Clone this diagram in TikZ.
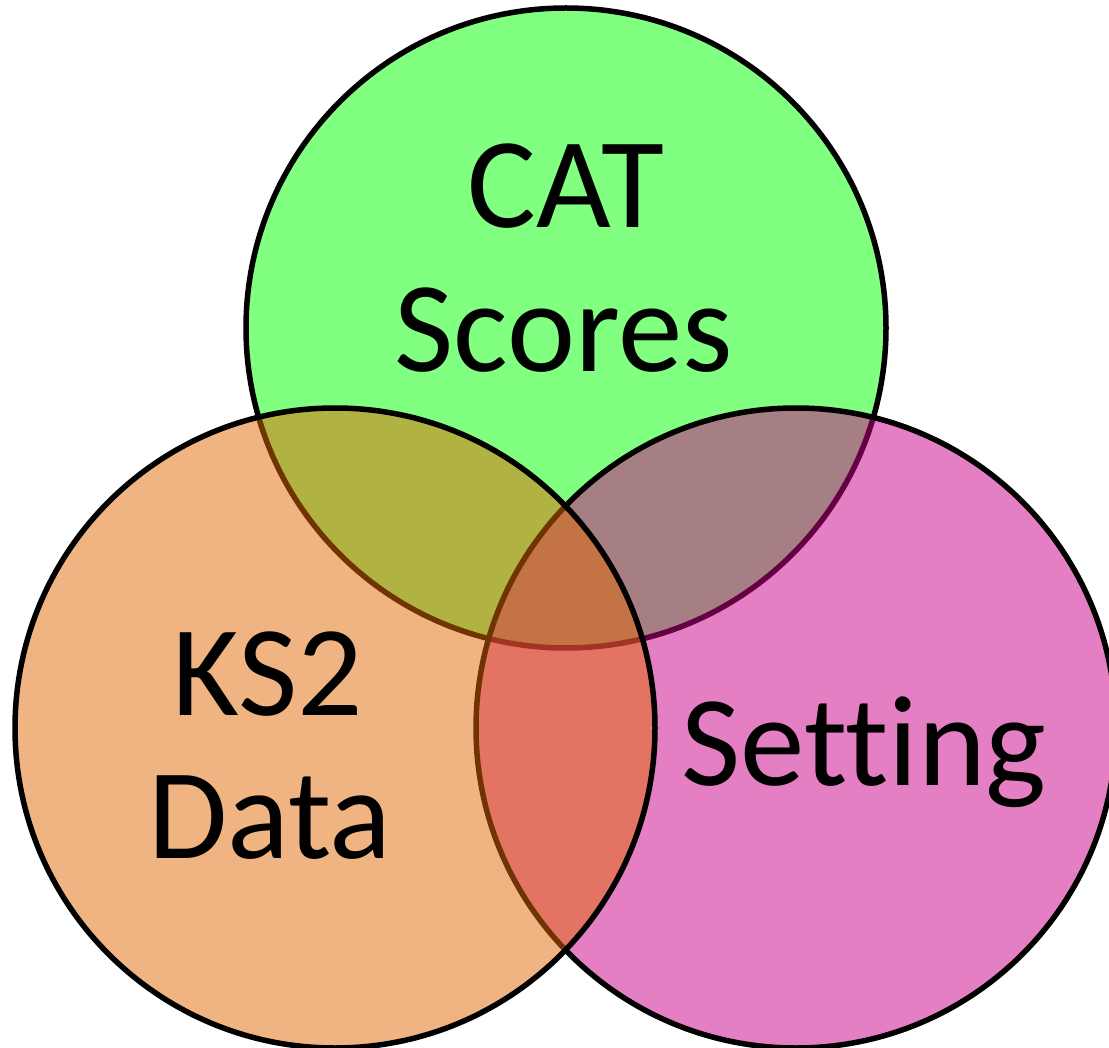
\documentclass[tikz,border=0pt]{standalone}
\usepackage{fontspec}
\setmainfont[Ligatures={NoCommon,NoContextual}]{Carlito}
\definecolor{cgreen}{RGB}{128,255,128}
\definecolor{cmag}{RGB}{204,0,136}
\definecolor{corange}{RGB}{225,105,5}
\begin{document}
\begin{tikzpicture}[x=1pt,y=-1pt,
  setcircle/.style={draw=black,line width=5.5pt},
  label/.style={anchor=base,inner sep=0pt,font=\fontsize{129}{144}\selectfont}]
\useasboundingbox (0,0) rectangle (1109,1048);
\filldraw[setcircle,fill=cgreen] (566,328) circle[radius=320];
\filldraw[setcircle,fill=cmag,fill opacity=0.5] (796,728) circle[radius=320];
\filldraw[setcircle,fill=corange,fill opacity=0.5] (335,728) circle[radius=320];
\node[label] (cat) at (566,228) {CAT};
\node[label] (scores) at (564,372) {Scores};
\node[label] (ks2) at (268,715) {KS2};
\node[label] (data) at (270,858) {Data};
\node[label] (setting) at (864,785) {Setting};
\end{tikzpicture}
\end{document}
